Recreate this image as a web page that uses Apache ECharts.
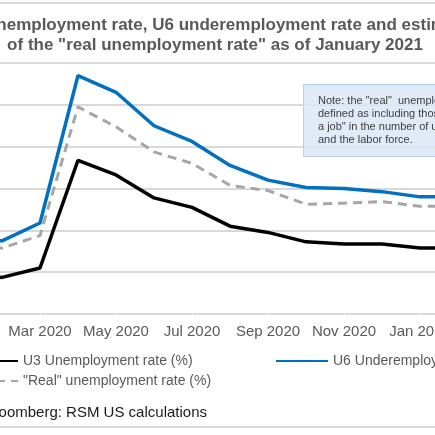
<!DOCTYPE html>
<html>
<head>
<meta charset="utf-8">
<script src="https://cdn.jsdelivr.net/npm/echarts@6/dist/echarts.min.js"></script>
<style>html,body{margin:0;padding:0;background:#fff}#c{width:435px;height:435px}</style>
</head>
<body>
<div id="c"></div>
<script>
var months = ['Jan 2020','Feb 2020','Mar 2020','Apr 2020','May 2020','Jun 2020','Jul 2020','Aug 2020','Sep 2020','Oct 2020','Nov 2020','Dec 2020','Jan 2021','Feb 2021'];
var u3 = [3.6, 3.5, 4.4, 14.7, 13.3, 11.1, 10.2, 8.4, 7.8, 6.9, 6.7, 6.7, 6.3, 6.3];
var u6 = [6.9, 7.0, 8.7, 22.8, 21.2, 18.0, 16.5, 14.2, 12.8, 12.1, 12.0, 11.7, 11.2, 11.2];
var realRate = [6.3, 6.3, 7.5, 19.8, 17.9, 15.5, 14.4, 12.3, 11.8, 10.5, 10.6, 10.75, 10.3, 10.3];
var seriesNames = ['U3 Unemployment rate (%)', 'U6 Underemployment rate (%)', '"Real" unemployment rate (%)'];
var titleText = 'U3 unemployment rate, U6 underemployment rate and estimate\nof the "real unemployment rate" as of January 2021';
var noteText = 'Note: the "real"  unemployment rate is\ndefined as including those who "want\na job" in the number of unemployed\nand the labor force.';
var sourceText = 'Source: Bloomberg: RSM US calculations';

var FONT = '"Liberation Sans", Arial, sans-serif';
var chart = echarts.init(document.getElementById('c'), null, {renderer: 'canvas'});
var legendBase = {itemWidth: 52, itemHeight: 14, padding: 0, itemStyle: {opacity: 0},
  textStyle: {fontFamily: FONT, fontSize: 14, color: '#595959'}};
chart.setOption({
  animation: false,
  backgroundColor: '#fff',
  title: {
    text: titleText,
    left: 215, top: 15, textAlign: 'center', padding: 0,
    textStyle: {fontFamily: FONT, fontSize: 17, fontWeight: 'bold', color: '#595959', lineHeight: 20}
  },
  grid: {left: -36, right: -23, top: 63, bottom: 121, containLabel: false, outerBoundsMode: 'none'},
  xAxis: {
    type: 'category', data: months, boundaryGap: false,
    axisLine: {lineStyle: {color: '#d9d9d9', width: 1}},
    axisTick: {show: true, lineStyle: {color: '#ffffff'}},
    axisLabel: {interval: 1, color: '#595959', fontFamily: FONT, fontSize: 15, margin: 10, hideOverlap: false}
  },
  yAxis: {
    type: 'value', min: 0, max: 24, interval: 4,
    axisLabel: {show: true, inside: true, color: '#ffffff'}, axisLine: {show: false}, axisTick: {show: false},
    splitLine: {show: true, lineStyle: {color: '#d9d9d9', width: 2}}
  },
  legend: [
    Object.assign({data: [seriesNames[0]], left: -35, top: 354}, legendBase),
    Object.assign({data: [seriesNames[1]], left: 275, top: 354}, legendBase),
    Object.assign({data: [seriesNames[2]], left: -35, top: 374}, legendBase)
  ],
  series: [
    {name: seriesNames[0], type: 'line', data: u3, showSymbol: false, symbol: 'none',
     lineStyle: {color: '#000000', width: 3.5}, itemStyle: {color: '#000000'}, z: 3},
    {name: seriesNames[1], type: 'line', data: u6, showSymbol: false, symbol: 'none',
     lineStyle: {color: '#0070c0', width: 3.5}, itemStyle: {color: '#0070c0'}, z: 3},
    {name: seriesNames[2], type: 'line', data: realRate, showSymbol: false, symbol: 'none',
     lineStyle: {color: '#a6a6a6', width: 3, type: [9, 6]}, itemStyle: {color: '#a6a6a6'}, z: 2}
  ],
  graphic: [
    {type: 'rect', silent: true, z: -1, shape: {x: -5, y: 3, width: 445, height: 424},
     style: {fill: 'none', stroke: '#d9d9d9', lineWidth: 2}},
    {type: 'rect', silent: true, z: 10, shape: {x: 303.5, y: 84.5, width: 220, height: 72},
     style: {fill: 'rgba(218,232,246,0.85)', stroke: '#b4cfec', lineWidth: 1}},
    {type: 'text', silent: true, z: 11, x: 318, y: 94,
     style: {text: noteText, fontSize: 11, fontFamily: FONT, fill: '#404040', lineHeight: 13.2, verticalAlign: 'top'}},
    {type: 'text', silent: true, z: 11, x: 207, y: 413,
     style: {text: sourceText, fontSize: 15, fontFamily: FONT, fill: '#1a1a1a', align: 'right', verticalAlign: 'middle'}}
  ]
});
</script>
</body>
</html>
